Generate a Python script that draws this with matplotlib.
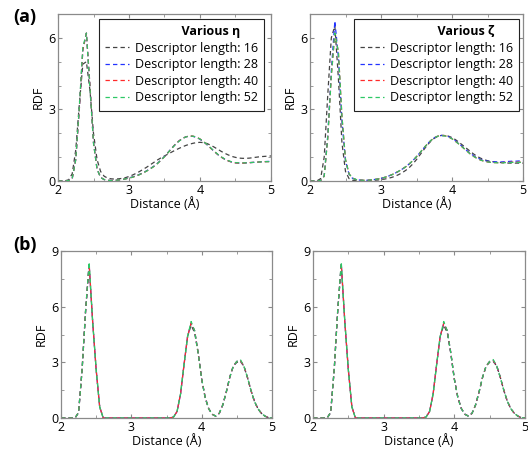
import numpy as np
import matplotlib
matplotlib.use("Agg")
import matplotlib.pyplot as plt

plt.rcParams['font.family'] = ['Open Sans', 'DejaVu Sans']

# ---------------- data ----------------
distance = np.round(np.arange(2.0, 5.0001, 0.05), 2)  # Å

labels = ["Descriptor length: 16", "Descriptor length: 28",
          "Descriptor length: 40", "Descriptor length: 52"]
colors = ["#444444", "#2233ff", "#ff2a2a", "#2ec866"]

# (a) left : various eta
eta_16 = [0, 0, 0.01, 0.05, 0.3, 1.3, 3.2, 4.9, 5.0, 3.8, 2.0, 0.9, 0.4, 0.2, 0.12, 0.09,
          0.08, 0.09, 0.11, 0.14, 0.19, 0.25, 0.32, 0.40, 0.49, 0.58, 0.68, 0.78, 0.88, 0.97,
          1.05, 1.13, 1.21, 1.29, 1.36, 1.43, 1.49, 1.54, 1.58, 1.61, 1.62, 1.61, 1.57, 1.50,
          1.42, 1.33, 1.24, 1.16, 1.09, 1.03, 0.99, 0.96, 0.95, 0.95, 0.96, 0.98, 1.00, 1.02,
          1.03, 1.04, 1.05]
eta_28 = [0, 0, 0, 0.02, 0.1, 0.9, 3.0, 5.5, 6.2, 4.0, 1.6, 0.5, 0.15, 0.06, 0.03, 0.02,
          0.03, 0.04, 0.06, 0.09, 0.13, 0.17, 0.22, 0.28, 0.35, 0.43, 0.52, 0.62, 0.74, 0.88,
          1.03, 1.20, 1.37, 1.53, 1.67, 1.78, 1.85, 1.88, 1.87, 1.83, 1.75, 1.64, 1.52, 1.38,
          1.24, 1.11, 1.00, 0.91, 0.84, 0.79, 0.76, 0.75, 0.75, 0.76, 0.77, 0.78, 0.79, 0.80,
          0.81, 0.82, 0.82]
eta_40 = [0, 0, 0, 0.02, 0.1, 0.9, 3.0, 5.5, 6.2, 4.0, 1.6, 0.5, 0.15, 0.06, 0.03, 0.02,
          0.03, 0.04, 0.06, 0.09, 0.12, 0.16, 0.21, 0.27, 0.34, 0.42, 0.51, 0.61, 0.73, 0.87,
          1.02, 1.19, 1.36, 1.53, 1.67, 1.78, 1.85, 1.89, 1.88, 1.84, 1.76, 1.65, 1.52, 1.38,
          1.24, 1.11, 1.00, 0.91, 0.84, 0.79, 0.76, 0.75, 0.75, 0.76, 0.77, 0.78, 0.79, 0.80,
          0.81, 0.81, 0.82]
eta_52 = [0, 0, 0, 0.02, 0.1, 0.9, 3.1, 5.6, 6.2, 3.9, 1.6, 0.5, 0.15, 0.06, 0.03, 0.02,
          0.03, 0.04, 0.06, 0.09, 0.12, 0.16, 0.21, 0.27, 0.34, 0.42, 0.51, 0.61, 0.73, 0.87,
          1.02, 1.19, 1.36, 1.52, 1.66, 1.77, 1.85, 1.88, 1.88, 1.84, 1.76, 1.65, 1.53, 1.39,
          1.25, 1.12, 1.01, 0.92, 0.85, 0.80, 0.77, 0.76, 0.76, 0.76, 0.77, 0.78, 0.79, 0.80,
          0.81, 0.81, 0.81]

# (a) right : various zeta
zeta_16 = [0, 0, 0.01, 0.10, 1.0, 3.6, 6.0, 6.5, 4.3, 1.6, 0.4, 0.1, 0.03, 0.01, 0.01, 0.01,
           0.01, 0.02, 0.03, 0.04, 0.06, 0.08, 0.11, 0.15, 0.20, 0.27, 0.35, 0.45, 0.57, 0.72,
           0.90, 1.10, 1.30, 1.50, 1.66, 1.79, 1.87, 1.91, 1.91, 1.88, 1.82, 1.73, 1.62, 1.50,
           1.38, 1.26, 1.14, 1.04, 0.96, 0.90, 0.85, 0.82, 0.80, 0.78, 0.77, 0.76, 0.75, 0.75,
           0.75, 0.75, 0.75]
zeta_28 = [0, 0, 0, 0.02, 0.22, 1.9, 4.6, 6.7, 5.2, 2.5, 0.85, 0.28, 0.11, 0.06, 0.04, 0.03,
           0.03, 0.04, 0.06, 0.08, 0.11, 0.15, 0.20, 0.26, 0.33, 0.41, 0.50, 0.60, 0.72, 0.86,
           1.02, 1.19, 1.37, 1.54, 1.69, 1.81, 1.88, 1.91, 1.90, 1.86, 1.78, 1.68, 1.56, 1.43,
           1.30, 1.18, 1.07, 0.98, 0.91, 0.86, 0.83, 0.81, 0.80, 0.80, 0.80, 0.81, 0.82, 0.83,
           0.83, 0.84, 0.84]
zeta_40 = [0, 0, 0, 0.02, 0.20, 1.8, 4.4, 6.2, 5.4, 2.7, 0.9, 0.3, 0.12, 0.06, 0.04, 0.03,
           0.03, 0.04, 0.06, 0.08, 0.11, 0.15, 0.20, 0.26, 0.33, 0.41, 0.50, 0.60, 0.72, 0.86,
           1.02, 1.19, 1.37, 1.54, 1.69, 1.81, 1.88, 1.91, 1.90, 1.85, 1.77, 1.66, 1.54, 1.41,
           1.28, 1.15, 1.04, 0.95, 0.88, 0.83, 0.80, 0.78, 0.77, 0.77, 0.77, 0.78, 0.78, 0.79,
           0.79, 0.79, 0.79]
zeta_52 = [0, 0, 0, 0.02, 0.20, 1.8, 4.4, 6.2, 5.4, 2.7, 0.9, 0.3, 0.12, 0.06, 0.04, 0.03,
           0.03, 0.04, 0.06, 0.08, 0.11, 0.15, 0.20, 0.26, 0.33, 0.41, 0.50, 0.60, 0.72, 0.86,
           1.02, 1.19, 1.37, 1.54, 1.69, 1.81, 1.88, 1.90, 1.89, 1.85, 1.77, 1.66, 1.54, 1.41,
           1.28, 1.15, 1.04, 0.95, 0.88, 0.83, 0.80, 0.78, 0.77, 0.76, 0.76, 0.77, 0.77, 0.78,
           0.78, 0.78, 0.78]

# (b) : crystalline RDF, all descriptor lengths nearly identical
cryst_16 = [0, 0, 0, 0, 0, 0.3, 2.6, 5.8, 8.2, 5.2, 2.6, 0.6, 0, 0, 0, 0,
            0, 0, 0, 0, 0, 0, 0, 0, 0, 0, 0, 0, 0, 0,
            0, 0, 0.05, 0.35, 1.3, 2.9, 4.4, 5.0, 4.6, 3.5, 2.1, 1.1, 0.5, 0.2,
            0.1, 0.25, 0.7, 1.4, 2.2, 2.8, 3.0, 3.05, 2.8, 2.2, 1.5, 0.9, 0.5, 0.25,
            0.1, 0.02, 0]
cryst_28 = [0, 0, 0, 0, 0, 0.3, 2.6, 5.8, 8.3, 5.2, 2.6, 0.6, 0, 0, 0, 0,
            0, 0, 0, 0, 0, 0, 0, 0, 0, 0, 0, 0, 0, 0,
            0, 0, 0.05, 0.35, 1.3, 2.9, 4.4, 5.1, 4.7, 3.5, 2.1, 1.1, 0.5, 0.2,
            0.1, 0.25, 0.7, 1.4, 2.2, 2.8, 3.05, 3.1, 2.8, 2.2, 1.5, 0.9, 0.5, 0.25,
            0.1, 0.02, 0]
cryst_40 = [0, 0, 0, 0, 0, 0.3, 2.6, 5.8, 8.3, 5.2, 2.6, 0.6, 0, 0, 0, 0,
            0, 0, 0, 0, 0, 0, 0, 0, 0, 0, 0, 0, 0, 0,
            0, 0, 0.05, 0.35, 1.3, 2.9, 4.4, 5.1, 4.7, 3.5, 2.1, 1.1, 0.5, 0.2,
            0.1, 0.25, 0.7, 1.4, 2.2, 2.8, 3.05, 3.1, 2.8, 2.2, 1.5, 0.9, 0.5, 0.25,
            0.1, 0.02, 0]
cryst_52 = [0, 0, 0, 0, 0, 0.3, 2.6, 5.8, 8.4, 5.2, 2.6, 0.6, 0, 0, 0, 0,
            0, 0, 0, 0, 0, 0, 0, 0, 0, 0, 0, 0, 0, 0,
            0, 0, 0.05, 0.35, 1.3, 2.9, 4.4, 5.2, 4.7, 3.5, 2.1, 1.1, 0.5, 0.2,
            0.1, 0.25, 0.7, 1.4, 2.2, 2.8, 3.05, 3.15, 2.8, 2.2, 1.5, 0.9, 0.5, 0.25,
            0.1, 0.02, 0]

x_ticks = [2, 3, 4, 5]
top_yticks = [0, 3, 6]
bot_yticks = [0, 3, 6, 9]

# ---------------- figure ----------------
fig = plt.figure(figsize=(5.28, 4.53), dpi=100)
W, H = 528, 453

def add_ax(l, r, t, b):
    return fig.add_axes([l / W, 1 - b / H, (r - l) / W, (b - t) / H])

ax_tl = add_ax(58, 271, 14, 181)
ax_tr = add_ax(310, 523, 14, 181)
ax_bl = add_ax(61, 272, 251, 418)
ax_br = add_ax(313, 525, 251, 418)

spine_c = "#8a8a8a"

def style(ax, ymax, yticks, yminor):
    ax.set_xlim(2, 5)
    ax.set_ylim(0, ymax)
    ax.set_xticks(x_ticks)
    ax.set_yticks(yticks)
    ax.set_xticks(np.arange(2, 5.01, 0.5), minor=True)
    ax.set_yticks(np.arange(0, ymax + 0.01, yminor), minor=True)
    for s in ax.spines.values():
        s.set_color(spine_c)
        s.set_linewidth(0.9)
    ax.tick_params(which='both', direction='in', top=True, right=True,
                   color=spine_c, labelsize=9, pad=2)
    ax.tick_params(which='major', length=3)
    ax.tick_params(which='minor', length=2.5)
    ax.set_xlabel("Distance (Å)", fontsize=9, labelpad=0)
    ax.set_ylabel("RDF", fontsize=9, labelpad=2)

def draw(ax, series):
    for y, c, lab in zip(series, colors, labels):
        ax.plot(distance, y, linestyle=(0, (3.5, 2.5)), color=c, lw=0.9, label=lab)

draw(ax_tl, [eta_16, eta_28, eta_40, eta_52])
draw(ax_tr, [zeta_16, zeta_28, zeta_40, zeta_52])
draw(ax_bl, [cryst_16, cryst_28, cryst_40, cryst_52])
draw(ax_br, [cryst_16, cryst_28, cryst_40, cryst_52])

style(ax_tl, 7, top_yticks, 1)
style(ax_tr, 7, top_yticks, 1)
style(ax_bl, 9, bot_yticks, 1.5)
style(ax_br, 9, bot_yticks, 1.5)

def legend(ax, title, xr):
    leg = ax.legend(loc='upper right', bbox_to_anchor=(xr, 0.97), borderaxespad=0,
                    fontsize=9, title=title, title_fontproperties={'weight': 'bold', 'size': 9},
                    frameon=True, fancybox=False, edgecolor='#222222', framealpha=1,
                    handlelength=1.9, handletextpad=0.45, labelspacing=0.28,
                    borderpad=0.5)
    leg.get_frame().set_linewidth(0.8)
    return leg

pad = " " * 18
legend(ax_tl, pad + "Various η", 0.967)
legend(ax_tr, pad + "Various ζ", 0.981)

fig.text(13 / W, 1 - 17 / H, "(a)", fontsize=13, fontweight='bold', va='center', ha='left')
fig.text(13 / W, 1 - 245 / H, "(b)", fontsize=13, fontweight='bold', va='center', ha='left')

fig.savefig("out.png", dpi=100)
